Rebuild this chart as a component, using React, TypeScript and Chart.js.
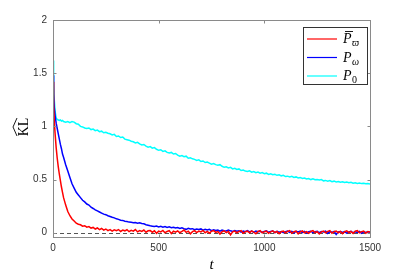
import React, { useEffect, useRef } from 'react';
import { Chart, registerables } from 'chart.js';

Chart.register(...registerables);

// time grid
const tValues = [
  0, 3, 6, 10, 15, 20, 25, 30, 35, 40, 45, 50,
  60, 70, 80, 90, 100, 110, 120, 130, 140, 150,
  160, 170, 180, 190, 200, 210, 220, 230, 240, 250,
  260, 270, 280, 290, 300, 310, 320, 330, 340, 350,
  360, 370, 380, 390, 400, 410, 420, 430, 440, 450,
  460, 470, 480, 490, 500, 510, 520, 530, 540, 550,
  560, 570, 580, 590, 600, 610, 620, 630, 640, 650,
  660, 670, 680, 690, 700, 710, 720, 730, 740, 750,
  760, 770, 780, 790, 800, 810, 820, 830, 840, 850,
  860, 870, 880, 890, 900, 910, 920, 930, 940, 950,
  960, 970, 980, 990, 1000, 1010, 1020, 1030, 1040, 1050,
  1060, 1070, 1080, 1090, 1100, 1110, 1120, 1130, 1140, 1150,
  1160, 1170, 1180, 1190, 1200, 1210, 1220, 1230, 1240, 1250,
  1260, 1270, 1280, 1290, 1300, 1310, 1320, 1330, 1340, 1350,
  1360, 1370, 1380, 1390, 1400, 1410, 1420, 1430, 1440, 1450,
  1460, 1470, 1480, 1490, 1500,
];

// P-bar varpi (red)
const redValues = [
  1.42, 1.2, 1.05, 0.93, 0.8, 0.7, 0.62, 0.55, 0.49, 0.43, 0.38, 0.33,
  0.26, 0.2, 0.16, 0.13, 0.11, 0.09, 0.08, 0.075, 0.062, 0.066,
  0.052, 0.058, 0.044, 0.05, 0.035, 0.045, 0.03, 0.04, 0.025, 0.035,
  0.02, 0.03, 0.015, 0.028, 0.02, 0.03, 0.012, 0.025, 0.018, 0.028,
  0.01, 0.022, 0.015, 0.03, 0.008, 0.02, 0.012, 0.025, 0.005, 0.018,
  0.02, 0.005, 0.018, -0.005, 0.015, 0.008, 0.022, 0.0, 0.012, 0.02,
  -0.008, 0.015, 0.005, 0.018, 0.0, 0.012, 0.025, 0.004, 0.015, -0.01,
  0.01, 0.02, 0.002, 0.016, 0.008, 0.022, 0.0, 0.012, -0.004, 0.015,
  0.02, 0.003, 0.012, -0.012, 0.01, 0.018, 0.002, 0.014, -0.02, 0.008,
  0.016, 0.0, 0.012, 0.02, -0.005, 0.01, 0.015, 0.0, 0.018, 0.005,
  -0.01, 0.012, 0.02, 0.0, 0.01, 0.015, -0.006, 0.008, 0.018, 0.002,
  0.012, -0.008, 0.01, 0.016, 0.0, 0.012, 0.02, -0.004, 0.01, 0.015,
  -0.01, 0.008, 0.018, 0.0, 0.01, -0.006, 0.012, 0.02, 0.002, 0.01,
  -0.012, 0.008, 0.015, 0.0, 0.012, 0.02, -0.004, 0.01, 0.016, 0.0,
  0.012, -0.008, 0.01, 0.018, 0.002, 0.012, -0.006, 0.014, 0.02, 0.0,
  0.01, 0.016, -0.004, 0.012, 0.008,
];

// P omega (blue)
const blueValues = [
  1.48, 1.3, 1.18, 1.1, 1.03, 0.98, 0.93, 0.88, 0.83, 0.79, 0.74, 0.71,
  0.64, 0.58, 0.52, 0.46, 0.42, 0.38, 0.355, 0.33, 0.305, 0.29,
  0.27, 0.26, 0.24, 0.228, 0.215, 0.205, 0.195, 0.185, 0.175, 0.17,
  0.16, 0.153, 0.146, 0.14, 0.131, 0.126, 0.118, 0.116, 0.108, 0.105,
  0.1, 0.098, 0.094, 0.096, 0.09, 0.093, 0.087, 0.084, 0.076, 0.071,
  0.066, 0.062, 0.058, 0.063, 0.055, 0.06, 0.052, 0.058, 0.05, 0.055,
  0.048, 0.052, 0.044, 0.048, 0.04, 0.046, 0.038, 0.032, 0.042, 0.035,
  0.038, 0.028, 0.035, 0.03, 0.036, 0.025, 0.032, 0.026, 0.032, 0.02,
  0.028, 0.022, 0.026, 0.015, 0.025, 0.02, 0.016, 0.026, 0.018, 0.012,
  0.02, 0.014, 0.018, 0.006, 0.016, 0.01, 0.02, 0.008, 0.015, 0.004,
  0.016, 0.01, 0.014, 0.004, 0.012, 0.018, 0.004, 0.012, 0.016, 0.002,
  0.014, 0.006, 0.012, 0.0, 0.01, 0.016, 0.004, 0.012, -0.002, 0.014,
  0.008, 0.016, 0.002, 0.012, -0.004, 0.01, 0.014, 0.0, 0.01, 0.014,
  0.0, 0.012, 0.008, 0.016, -0.006, 0.01, 0.004, 0.013, -0.016, 0.008,
  0.012, 0.002, 0.01, -0.004, 0.008, 0.014, -0.002, 0.01, 0.003, 0.013,
  -0.006, 0.008, 0.002, 0.01, 0.004,
];

// P_0 (cyan)
const cyanValues = [
  1.62, 1.4, 1.25, 1.14, 1.08, 1.065, 1.06, 1.055, 1.06, 1.05, 1.055, 1.045,
  1.04, 1.045, 1.035, 1.045, 1.04, 1.025, 1.02, 1.0, 0.995, 0.985,
  0.98, 0.985, 0.97, 0.975, 0.96, 0.965, 0.95, 0.955, 0.94, 0.945,
  0.935, 0.93, 0.92, 0.925, 0.905, 0.91, 0.895, 0.9, 0.88, 0.875,
  0.87, 0.86, 0.855, 0.845, 0.85, 0.835, 0.825, 0.83, 0.815, 0.805,
  0.81, 0.795, 0.8, 0.785, 0.775, 0.78, 0.765, 0.77, 0.755, 0.75,
  0.755, 0.74, 0.745, 0.73, 0.72, 0.725, 0.715, 0.72, 0.7, 0.705,
  0.695, 0.69, 0.68, 0.685, 0.67, 0.675, 0.66, 0.665, 0.655, 0.645,
  0.65, 0.64, 0.635, 0.64, 0.625, 0.615, 0.62, 0.61, 0.615, 0.6,
  0.605, 0.595, 0.6, 0.585, 0.59, 0.58, 0.575, 0.582, 0.57, 0.575,
  0.565, 0.57, 0.56, 0.565, 0.555, 0.56, 0.548, 0.555, 0.545, 0.55,
  0.54, 0.545, 0.535, 0.54, 0.528, 0.532, 0.525, 0.53, 0.52, 0.525,
  0.515, 0.52, 0.51, 0.515, 0.505, 0.51, 0.5, 0.508, 0.498, 0.5,
  0.495, 0.5, 0.488, 0.492, 0.485, 0.49, 0.48, 0.485, 0.478, 0.482,
  0.475, 0.48, 0.472, 0.476, 0.47, 0.474, 0.466, 0.47, 0.464, 0.468,
  0.462, 0.466, 0.46, 0.463, 0.458,
];

const xTicks = [0, 500, 1000, 1500];
const yTicks = [0, 0.5, 1, 1.5, 2];

const seriesColors = ['#ff0000', '#0000ff', '#00ffff'];

const SERIF = '"Liberation Serif", "DejaVu Serif", serif';
const SANS = '"Liberation Sans", Arial, sans-serif';
const AXIS_COLOR = '#8a8a8a';

const decorPlugin = {
  id: 'decor',
  beforeDatasetsDraw(chart: any) {
    const { ctx, scales } = chart;
    const x = scales.x;
    const y = scales.y;
    ctx.save();
    ctx.strokeStyle = '#555555';
    ctx.lineWidth = 1;
    ctx.setLineDash([4, 3]);
    const y0 = Math.round(y.getPixelForValue(0)) + 0.5;
    ctx.beginPath();
    ctx.moveTo(x.getPixelForValue(0), y0);
    ctx.lineTo(x.getPixelForValue(1500), y0);
    ctx.stroke();
    ctx.restore();
  },
  afterDatasetsDraw(chart: any) {
    const { ctx, chartArea, scales } = chart;
    const x = scales.x;
    const y = scales.y;
    const L = Math.round(chartArea.left) + 0.5;
    const R = Math.round(chartArea.right) + 0.5;
    const T = Math.round(chartArea.top) + 0.5;
    const B = Math.round(chartArea.bottom) + 0.5;
    ctx.save();
    ctx.strokeStyle = AXIS_COLOR;
    ctx.lineWidth = 1;
    ctx.strokeRect(L, T, R - L, B - T);
    const tl = 3;
    ctx.beginPath();
    xTicks.forEach((v) => {
      const px = Math.round(x.getPixelForValue(v)) + 0.5;
      ctx.moveTo(px, B);
      ctx.lineTo(px, B - tl);
      ctx.moveTo(px, T);
      ctx.lineTo(px, T + tl);
    });
    yTicks.forEach((v) => {
      const py = Math.round(y.getPixelForValue(v)) + 0.5;
      ctx.moveTo(L, py);
      ctx.lineTo(L + tl, py);
      ctx.moveTo(R, py);
      ctx.lineTo(R - tl, py);
    });
    ctx.stroke();

    // legend
    const lx = 303.5, ly = 27.5, lw = 64, lh = 57;
    ctx.fillStyle = '#ffffff';
    ctx.fillRect(lx, ly, lw, lh);
    ctx.strokeStyle = '#333333';
    ctx.strokeRect(lx, ly, lw, lh);
    const rows = [39, 57.5, 76];
    const subs = ['\u03D6', '\u03C9', '0'];
    rows.forEach((ry, i) => {
      ctx.strokeStyle = seriesColors[i];
      ctx.lineWidth = 1.2;
      ctx.beginPath();
      ctx.moveTo(307, ry);
      ctx.lineTo(337, ry);
      ctx.stroke();
      ctx.fillStyle = '#000000';
      ctx.font = 'italic 14px ' + SERIF;
      ctx.textAlign = 'left';
      ctx.textBaseline = 'alphabetic';
      ctx.fillText('P', 343, ry + 4);
      if (i === 0) {
        ctx.strokeStyle = '#000000';
        ctx.lineWidth = 0.9;
        ctx.beginPath();
        ctx.moveTo(345, ry - 7.5);
        ctx.lineTo(353, ry - 7.5);
        ctx.stroke();
      }
      ctx.font = (i === 2 ? '' : 'italic ') + '10px ' + SERIF;
      ctx.fillText(subs[i], 352, ry + 7);
    });

    // y title: widehat KL
    ctx.save();
    ctx.translate(24, 127);
    ctx.rotate(-Math.PI / 2);
    ctx.fillStyle = '#000000';
    ctx.font = '14px ' + SERIF;
    ctx.textAlign = 'center';
    ctx.textBaseline = 'alphabetic';
    ctx.fillText('KL', 0, 4);
    ctx.strokeStyle = '#000000';
    ctx.lineWidth = 0.9;
    ctx.beginPath();
    ctx.moveTo(-9, -7);
    ctx.lineTo(0, -11);
    ctx.lineTo(9, -7);
    ctx.stroke();
    ctx.restore();

    // x title
    ctx.fillStyle = '#000000';
    ctx.font = 'italic 15px ' + SERIF;
    ctx.textAlign = 'center';
    ctx.textBaseline = 'alphabetic';
    ctx.fillText('t', (chartArea.left + chartArea.right) / 2, 269);
    ctx.restore();
  },
};

export default function App() {
  const ref = useRef<HTMLCanvasElement | null>(null);
  useEffect(() => {
    if (!ref.current) return;
    const mk = (vals: number[]) => tValues.map((t, i) => ({ x: t, y: vals[i] }));
    const chart = new Chart(ref.current, {
      type: 'line',
      data: {
        datasets: [
          { label: 'P-bar varpi', data: mk(redValues), borderColor: seriesColors[0], borderWidth: 1.5, pointRadius: 0, tension: 0, fill: false },
          { label: 'P omega', data: mk(blueValues), borderColor: seriesColors[1], borderWidth: 1.5, pointRadius: 0, tension: 0, fill: false },
          { label: 'P 0', data: mk(cyanValues), borderColor: seriesColors[2], borderWidth: 1.5, pointRadius: 0, tension: 0, fill: false },
        ],
      },
      options: {
        responsive: false,
        animation: false,
        events: [],
        layout: { padding: { left: 13, right: 38, top: 20, bottom: 16 } },
        plugins: { legend: { display: false }, tooltip: { enabled: false }, title: { display: false } },
        scales: {
          x: {
            type: 'linear',
            min: 0,
            max: 1500,
            grid: { display: false, drawTicks: false },
            border: { display: false },
            afterBuildTicks: (s: any) => { s.ticks = xTicks.map((v) => ({ value: v })); },
            afterFit: (s: any) => { s.height = 20; },
            ticks: { padding: 5, color: '#333333', font: { family: SANS, size: 10 }, maxRotation: 0, autoSkip: false, callback: (v: any) => String(v) },
          },
          y: {
            type: 'linear',
            min: -0.04,
            max: 2,
            grid: { display: false, drawTicks: false },
            border: { display: false },
            afterBuildTicks: (s: any) => { s.ticks = yTicks.map((v) => ({ value: v })); },
            afterFit: (s: any) => { s.width = 40; },
            ticks: { padding: 6, color: '#333333', font: { family: SANS, size: 10 }, autoSkip: false, callback: (v: any) => String(v) },
          },
        },
      },
      plugins: [decorPlugin],
    } as any);
    return () => chart.destroy();
  }, []);
  return (
    <div style={{ position: 'absolute', left: 0, top: 0, width: 408, height: 273, background: '#ffffff' }}>
      <canvas ref={ref} width={408} height={273} style={{ width: 408, height: 273, display: 'block' }} />
    </div>
  );
}
